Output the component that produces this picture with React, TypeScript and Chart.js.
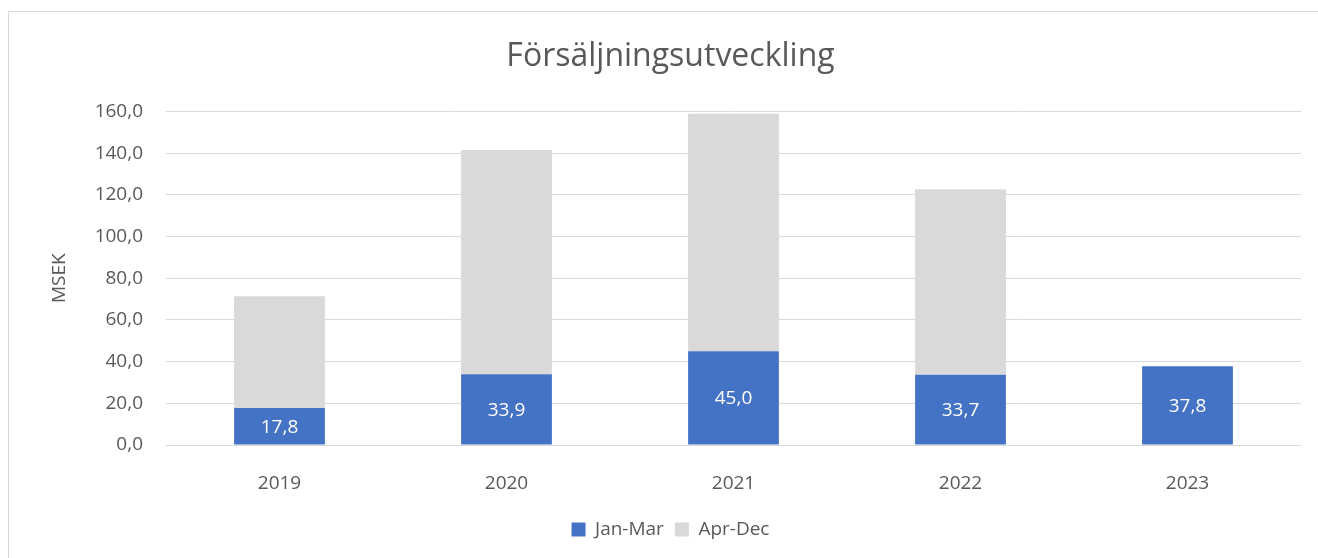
import React, { useEffect, useRef } from "react";
import { Chart, registerables } from "chart.js";

Chart.register(...registerables);

const categories = ["2019", "2020", "2021", "2022", "2023"];
const janMar = [17.8, 33.9, 45.0, 33.7, 37.8];
const aprDec = [53.5, 107.6, 113.9, 89.0, null];
const yTicksMax = 160;
const yStep = 20;

const FONT = "'Open Sans', Lato, sans-serif";
const TEXT = "#595959";

const fmt = (v: number) => v.toFixed(1).replace(".", ",");

const labelPlugin = {
  id: "innerLabels",
  afterDatasetsDraw(chart: any) {
    const ctx = chart.ctx;
    const meta = chart.getDatasetMeta(0);
    ctx.save();
    ctx.fillStyle = "#ffffff";
    ctx.font = `19px ${FONT}`;
    ctx.textAlign = "center";
    ctx.textBaseline = "middle";
    meta.data.forEach((el: any, i: number) => {
      const v = janMar[i];
      if (v == null) return;
      const { x, y, base } = el.getProps(["x", "y", "base"], true);
      ctx.fillText(fmt(v), x, (y + base) / 2 + 1);
    });
    ctx.restore();
  },
};

export default function App() {
  const ref = useRef<HTMLCanvasElement | null>(null);
  useEffect(() => {
    if (!ref.current) return;
    const chart = new Chart(ref.current, {
      type: "bar",
      data: {
        labels: categories,
        datasets: [
          {
            label: "Jan-Mar",
            data: janMar,
            backgroundColor: "#4472C4",
            categoryPercentage: 1,
            barPercentage: 0.4,
          },
          {
            label: "Apr-Dec",
            data: aprDec as any,
            backgroundColor: "#D9D9D9",
            categoryPercentage: 1,
            barPercentage: 0.4,
          },
        ],
      },
      options: {
        responsive: false,
        animation: false,
        layout: { padding: { left: 40, right: 17, top: 18, bottom: 9 } },
        plugins: {
          title: {
            display: true,
            text: "Försäljningsutveckling",
            color: TEXT,
            font: { family: FONT, size: 32, weight: "normal" },
            padding: { top: 20, bottom: 35 },
          },
          legend: {
            position: "bottom",
            labels: {
              color: TEXT,
              font: { family: FONT, size: 19 },
              boxWidth: 14,
              boxHeight: 14,
              padding: 11,
            },
          },
          tooltip: { enabled: false },
        },
        scales: {
          x: {
            stacked: true,
            grid: { display: false },
            border: { display: false },
            ticks: {
              color: TEXT,
              font: { family: FONT, size: 19 },
              padding: 19,
            },
            afterFit(scale: any) {
              scale.height = 64;
            },
          },
          y: {
            stacked: true,
            min: 0,
            max: yTicksMax,
            grid: { color: "#D9D9D9", lineWidth: 1, drawTicks: false },
            border: { display: false },
            ticks: {
              stepSize: yStep,
              color: TEXT,
              font: { family: FONT, size: 19 },
              padding: 23,
              callback: (v: any) => fmt(Number(v)),
            },
            title: {
              display: true,
              text: "MSEK",
              color: TEXT,
              font: { family: FONT, size: 19 },
              padding: { top: 8, bottom: 0 },
            },
            afterFit(scale: any) {
              scale.width = 126;
            },
          },
        },
      },
      plugins: [labelPlugin],
    });
    return () => chart.destroy();
  }, []);

  return (
    <div style={{ position: "fixed", left: 0, top: 0, width: 1318, height: 558, background: "#fff" }}>
      <div
        style={{
          position: "absolute",
          left: 8,
          top: 11,
          width: 1320,
          height: 600,
          borderTop: "1px solid #D9D9D9",
          borderLeft: "1px solid #D9D9D9",
        }}
      />
      <canvas ref={ref} width={1318} height={558} style={{ position: "absolute", left: 0, top: 0 }} />
    </div>
  );
}
